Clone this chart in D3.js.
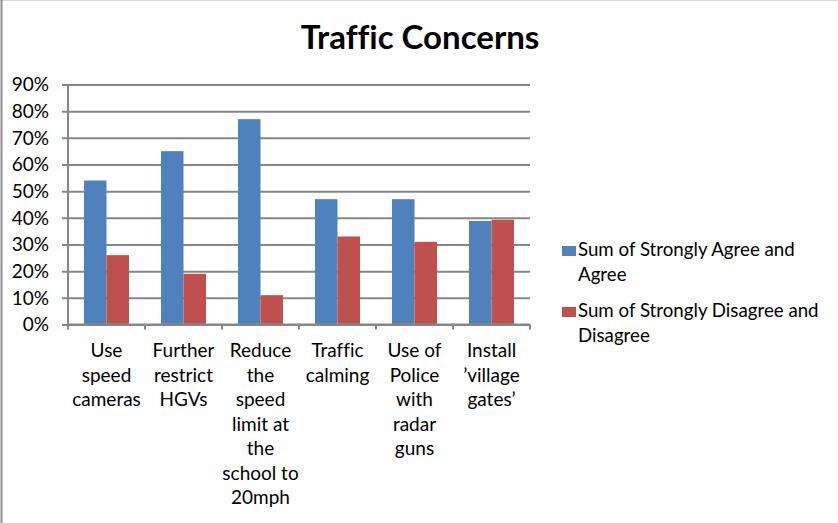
<!DOCTYPE html>
<html>
<head>
<meta charset="utf-8">
<script src="https://cdn.jsdelivr.net/npm/d3@7"></script>
<style>
  html, body { margin: 0; padding: 0; background: #fff; }
  svg { display: block; font-family: Lato, "Open Sans", sans-serif; font-variant-ligatures: none; }
</style>
</head>
<body>
<svg id="chart" width="838" height="523"></svg>
<script>
// data
const categories = [
  "Use speed cameras",
  "Further restrict HGVs",
  "Reduce the speed limit at the school to 20mph",
  "Traffic calming",
  "Use of Police with radar guns",
  "Install ’village gates’"
];
// how the category names break in the picture
const categoryLines = [
  ["Use", "speed", "cameras"],
  ["Further", "restrict", "HGVs"],
  ["Reduce", "the", "speed", "limit at", "the", "school to", "20mph"],
  ["Traffic", "calming"],
  ["Use of", "Police", "with", "radar", "guns"],
  ["Install", "’village", "gates’"]
];
const seriesNames = ["Sum of Strongly Agree and Agree", "Sum of Strongly Disagree and Disagree"];
const legendLines = [["Sum of Strongly Agree and", "Agree"], ["Sum of Strongly Disagree and", "Disagree"]];
const agree = [0.54, 0.65, 0.77, 0.47, 0.47, 0.388];
const disagree = [0.26, 0.19, 0.11, 0.33, 0.31, 0.393];
const yTicks = [0, 0.1, 0.2, 0.3, 0.4, 0.5, 0.6, 0.7, 0.8, 0.9];
const colors = ["#4F81BD", "#C0504D"];

const svg = d3.select("#chart");
const plot = { left: 68, right: 530, top: 84.5, bottom: 324.5 };
const GRID = "#868686";

// outer frame
svg.append("line").attr("x1", 0).attr("x2", 838).attr("y1", 0.5).attr("y2", 0.5)
  .attr("stroke", "#d9d9d9").attr("stroke-width", 1);
svg.append("line").attr("x1", 1.5).attr("x2", 1.5).attr("y1", 0).attr("y2", 523)
  .attr("stroke", "#8e8e8e").attr("stroke-width", 2);

svg.append("text").attr("x", 420).attr("y", 49)
  .attr("text-anchor", "middle").style("font-size", "33px").style("font-weight", "700")
  .style("fill", "#000").text("Traffic Concerns");

const y = d3.scaleLinear().domain([0, 0.9]).range([plot.bottom, plot.top]);
const x0 = d3.scaleBand().domain(categories).range([plot.left, plot.right]).padding(0);
const x1 = d3.scaleBand().domain(seriesNames).range([0, x0.bandwidth()]).paddingInner(0).paddingOuter(0.71);

// gridlines with their left tick marks
const yAxis = d3.axisLeft(y).tickValues(yTicks).tickSize(-(plot.right - plot.left)).tickFormat(d3.format(".0%"));
const ya = svg.append("g").attr("transform", `translate(${plot.left},0)`).call(yAxis);
ya.select(".domain").remove();
ya.selectAll(".tick line").attr("x1", -6).attr("stroke", GRID).attr("stroke-width", 2);
ya.selectAll(".tick text").attr("x", -19).attr("dy", "0.34em")
  .style("font-size", "19px").style("font-family", "Lato, sans-serif").style("fill", "#000");

svg.append("line").attr("x1", plot.left).attr("x2", plot.left)
  .attr("y1", plot.top).attr("y2", plot.bottom + 5).attr("stroke", GRID).attr("stroke-width", 2);

// bars
const rows = categories.map((c, i) => ({ cat: c, vals: [agree[i], disagree[i]] }));
const grp = svg.append("g").selectAll("g").data(rows).join("g")
  .attr("transform", d => `translate(${x0(d.cat)},0)`);
grp.selectAll("rect").data(d => d.vals.map((v, k) => ({ key: seriesNames[k], v, k }))).join("rect")
  .attr("x", d => x1(d.key)).attr("width", x1.bandwidth())
  .attr("y", d => y(d.v)).attr("height", d => y(0) - y(d.v))
  .attr("fill", d => colors[d.k]);

// x axis line and ticks between categories
svg.append("line").attr("x1", plot.left).attr("x2", plot.right)
  .attr("y1", plot.bottom).attr("y2", plot.bottom).attr("stroke", GRID).attr("stroke-width", 2);
const edges = categories.map(c => x0(c)).concat([plot.right]);
svg.append("g").selectAll("line").data(edges).join("line")
  .attr("x1", d => d).attr("x2", d => d).attr("y1", plot.bottom).attr("y2", plot.bottom + 5)
  .attr("stroke", GRID).attr("stroke-width", 2);

// category labels
const lab = svg.append("g").selectAll("text").data(categories).join("text")
  .attr("text-anchor", "middle").style("font-size", "19px").style("fill", "#000")
  .attr("transform", d => `translate(${x0(d) + x0.bandwidth() / 2},357)`);
lab.each(function(d, i) {
  d3.select(this).selectAll("tspan").data(categoryLines[i]).join("tspan")
    .attr("x", 0).attr("y", (t, j) => j * 24.5).text(t => t);
});

// legend
const leg = svg.append("g").selectAll("g").data(seriesNames).join("g")
  .attr("transform", (d, i) => `translate(562,${246 + i * 61})`);
leg.append("rect").attr("width", 14).attr("height", 10).attr("fill", (d, i) => colors[i]);
leg.append("text").style("font-size", "18.7px").style("fill", "#000")
  .each(function(d, i) {
    d3.select(this).selectAll("tspan").data(legendLines[i]).join("tspan")
      .attr("x", 16).attr("y", (t, j) => 10 + j * 24.5).text(t => t);
  });
</script>
</body>
</html>
